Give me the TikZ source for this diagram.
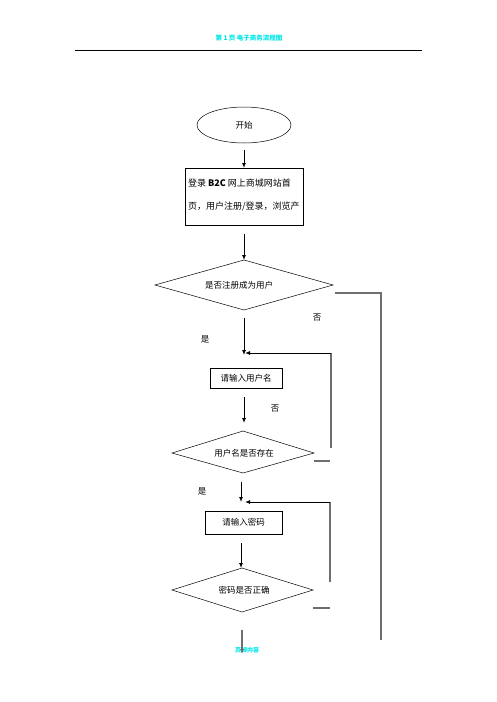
\documentclass[tikz,border=0pt]{standalone}
\usepackage{fontspec}
\newfontfamily\cjk{Noto Sans CJK SC}
\usetikzlibrary{shapes.geometric,arrows.meta}
\definecolor{hdr}{RGB}{0,230,230}
\definecolor{fb}{RGB}{110,110,110}
\tikzset{
  lbl/.style={font=\cjk\fontsize{8.5}{10}\selectfont, inner sep=0pt},
  ln/.style={draw=black, line width=0.5pt},
  flow/.style={draw=black, line width=0.9pt, -{Latex[length=5pt,width=4pt]}},
  back/.style={draw=fb, line width=1.2pt},
  backarr/.style={draw=fb, line width=1.2pt, -{Latex[length=5pt,width=4pt,fill=black]}},
}
\begin{document}
\begin{tikzpicture}[x=1pt,y=-1pt]
\useasboundingbox (0,0) rectangle (496,702);
% header
\node[font=\cjk\bfseries\itshape\fontsize{6.5}{7}\selectfont, text=hdr, inner sep=0pt] (hd) at (249,38) {第 1 页 电子商务流程图};
\coordinate (hl1) at (75,50); \coordinate (hl2) at (422,50);
\draw[line width=0.8pt] (hl1) -- (hl2);
% start
\node[ellipse, draw, line width=0.5pt, minimum width=94pt, minimum height=36pt, lbl] (start) at (244,125) {开始};
% box
\draw[ln] (185,168) rectangle (303,225);
\node[lbl, anchor=west, align=left, font=\cjk\fontsize{9}{23}\selectfont] (box) at (188,195) {登录 \textbf{B2C} 网上商城网站首\\页，用户注册/登录，浏览产};
\coordinate (a1) at (244,150); \coordinate (a1e) at (244,168);
\draw[flow] (a1) -- (a1e);
\coordinate (a2) at (244,234); \coordinate (a2e) at (244,260);
\draw[flow] (a2) -- (a2e);
% diamond 1
\draw[ln] (155,285) -- (244,260) -- (333,285) -- (244,310) -- cycle;
\node[lbl] (d1) at (239,285) {是否注册成为用户};
\coordinate (r1) at (335,293); \coordinate (r2) at (381,293); \coordinate (r3) at (381,640);
\draw[back] (r1) -- (r2) -- (r3);
\node[lbl] (no1) at (317,318) {否};
\node[lbl] (yes1) at (205,339) {是};
\coordinate (a3) at (244,318); \coordinate (a3e) at (244,355);
\draw[flow] (a3) -- (a3e);
\coordinate (f1a) at (331,448); \coordinate (f1b) at (331,353); \coordinate (f1c) at (245,353);
\draw[back] (f1a) -- (f1b);
\draw[flow] (f1b) -- (f1c);
% box 2
\node[draw, line width=0.5pt, minimum width=72pt, minimum height=20pt, lbl] (user) at (246,378) {请输入用户名};
\coordinate (a4) at (244,397); \coordinate (a4e) at (244,423);
\draw[flow] (a4) -- (a4e);
\node[lbl] (no2) at (275,409) {否};
% diamond 2
\draw[ln] (172,453) -- (243,431) -- (314,453) -- (243,473) -- cycle;
\node[lbl] (d2) at (244,453) {用户名是否存在};
\coordinate (s1) at (314,461); \coordinate (s2) at (330,461);
\draw[back] (s1) -- (s2);
\node[lbl] (yes2) at (202,491) {是};
\coordinate (a5) at (241,482); \coordinate (a5e) at (241,502);
\draw[flow] (a5) -- (a5e);
\coordinate (f2a) at (330,582); \coordinate (f2b) at (330,502); \coordinate (f2c) at (245,502);
\draw[back] (f2a) -- (f2b);
\draw[flow] (f2b) -- (f2c);
% box 3
\node[draw, line width=0.5pt, minimum width=77pt, minimum height=23pt, lbl] (pw) at (243.5,522.5) {请输入密码};
\coordinate (a6) at (241,543); \coordinate (a6e) at (241,568);
\draw[flow] (a6) -- (a6e);
% diamond 3
\draw[ln] (172,590) -- (242,568) -- (313,590) -- (242,612) -- cycle;
\node[lbl] (d3) at (244,590) {密码是否正确};
\coordinate (t1) at (313,608); \coordinate (t2) at (330,608);
\draw[back] (t1) -- (t2);
\node[font=\cjk\bfseries\itshape\fontsize{6}{6}\selectfont, text=hdr, inner sep=0pt] (ft) at (247,650) {页脚内容};
\coordinate (a7) at (242,630); \coordinate (a7e) at (242,654);
\draw[backarr] (a7) -- (a7e);
\end{tikzpicture}
\end{document}
